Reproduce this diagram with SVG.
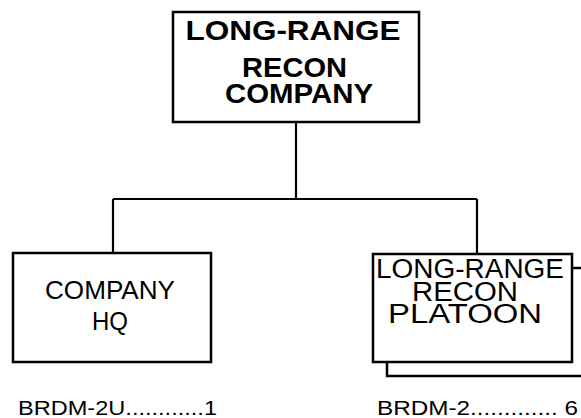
<svg xmlns="http://www.w3.org/2000/svg" width="581" height="418" viewBox="0 0 581 418">
<style>
.box{fill:#fff;stroke:#000;stroke-width:2.5}
.ln{fill:none;stroke:#000;stroke-width:2.2}
.t{font-family:"Liberation Sans",Arial,sans-serif;fill:#000;text-anchor:middle}
.b{font-weight:bold;font-size:28px}
.r{font-size:26px}
.p{font-size:27px}
.s{font-family:"Liberation Sans",Arial,sans-serif;font-size:21px;fill:#000}
</style>
<g id="connectors">
<path class="ln" d="M296 122V199M113 199H477M113 199V253M477 199V254"/>
</g>
<g id="company">
<rect class="box" x="173" y="12" width="246" height="110"/>
<text class="t b" x="293" y="39.5" textLength="215" lengthAdjust="spacingAndGlyphs">LONG-RANGE</text>
<text class="t b" x="294.5" y="77" textLength="105" lengthAdjust="spacingAndGlyphs">RECON</text>
<text class="t b" x="299" y="103" textLength="148" lengthAdjust="spacingAndGlyphs">COMPANY</text>
</g>
<g id="hq">
<rect class="box" x="13" y="253" width="198" height="109"/>
<text class="t r" x="110" y="299" textLength="130" lengthAdjust="spacingAndGlyphs">COMPANY</text>
<text class="t r" x="110" y="330" textLength="36" lengthAdjust="spacingAndGlyphs">HQ</text>
<text class="s" x="18" y="415" textLength="199" lengthAdjust="spacingAndGlyphs">BRDM-2U............1</text>
</g>
<g id="platoon">
<rect class="box" x="387" y="268" width="200" height="108"/>
<rect class="box" x="373" y="254" width="199" height="108"/>
<text class="t p" x="470" y="278" textLength="188" lengthAdjust="spacingAndGlyphs">LONG-RANGE</text>
<text class="t p" x="465" y="301" textLength="106" lengthAdjust="spacingAndGlyphs">RECON</text>
<text class="t p" x="465" y="323" textLength="154" lengthAdjust="spacingAndGlyphs">PLATOON</text>
<text class="s" x="377" y="415" textLength="201" lengthAdjust="spacingAndGlyphs">BRDM-2............. 6</text>
</g>
</svg>
